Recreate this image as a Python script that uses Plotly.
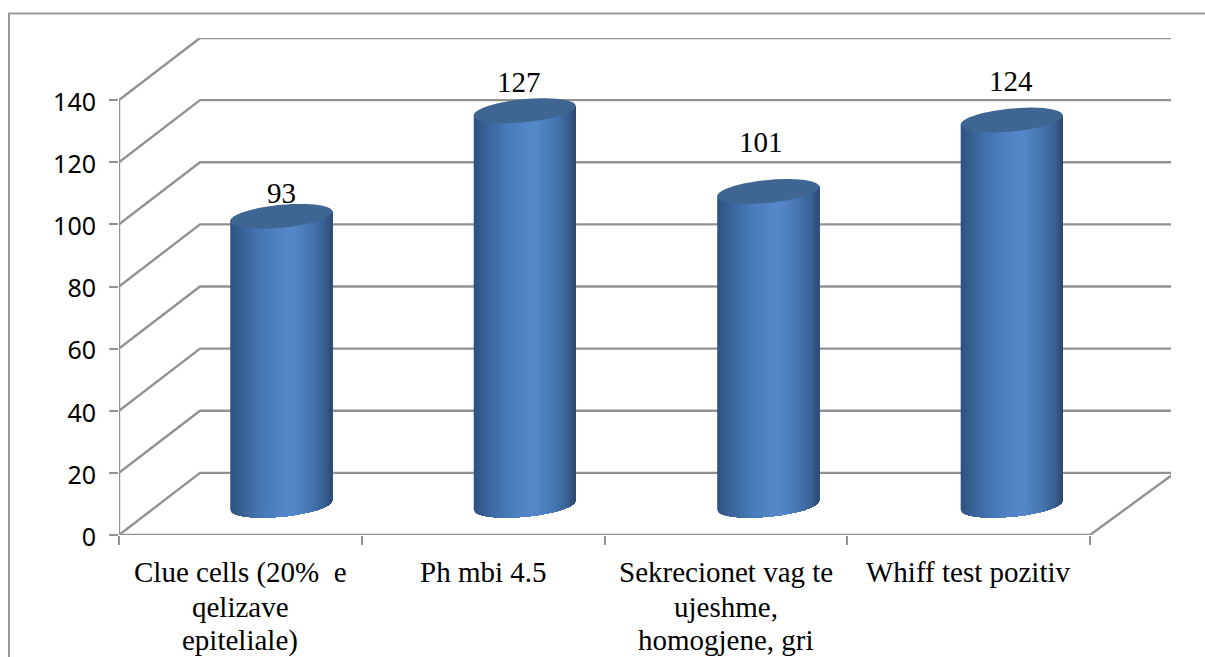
import numpy as np
import plotly.graph_objects as go

categories = [["Clue cells (20%  e", "qelizave", "epiteliale)"], ["Ph mbi 4.5"],
              ["Sekrecionet vag te", "ujeshme,", "homogjene, gri"], ["Whiff test pozitiv"]]
values = [93, 127, 101, 124]
y_ticks = [0, 20, 40, 60, 80, 100, 120, 140]

# Pseudo-3D geometry in axis units
DEPTH_X, DEPTH_Y = 0.3337, 20
WALL_EXTRA = 0.016
BAR_STEP = 1.003
BASE_Y = 9.6
HALF_W = 0.21
ELL_B, ELL_TILT = 3.7, 1.5
GRID = "#929292"
CAP = "#3f6592"
GRAD_POS = [-1.0, -0.75, -0.35, 0.05, 0.25, 0.6, 0.85, 1.0]
GRAD_COL = [(47, 82, 128), (58, 100, 152), (72, 122, 184), (84, 135, 200),
            (84, 135, 200), (70, 118, 176), (58, 96, 146), (44, 74, 112)]
LINE_SHIFTS = [-37, -72, -105]

n = len(values)
fig = go.Figure()


def line(xs, ys, color=GRID, width=2.4):
    fig.add_trace(go.Scatter(x=xs, y=ys, mode="lines", line=dict(color=color, width=width),
                             hoverinfo="skip", showlegend=False, cliponaxis=False))


wall_end = n + DEPTH_X + WALL_EXTRA
for v in y_ticks:
    line([0, DEPTH_X, wall_end], [v, v + DEPTH_Y, v + DEPTH_Y])
line([0, 0], [0, y_ticks[-1]])
line([0, n, wall_end], [0, 0, DEPTH_Y])


def grad(u):
    c = [np.interp(u, GRAD_POS, [g[k] for g in GRAD_COL]) for k in range(3)]
    return "rgb(%d,%d,%d)" % tuple(c)


edges = np.linspace(-1, 1, 81)
centers = [(i + 0.5) * BAR_STEP + DEPTH_X / 2 for i in range(n)]
for cx, v in zip(centers, values):
    top, base = v + BASE_Y, BASE_Y
    for k in range(len(edges) - 1):
        # each strip runs on to the right edge, the next one paints over it: no seams
        us = edges[k:]
        xs = cx + HALF_W * us
        low = base - ELL_B * np.sqrt(np.clip(1 - us ** 2, 0, 1)) + ELL_TILT * us
        high = top + ELL_TILT * us
        fig.add_trace(go.Scatter(x=np.r_[xs, xs[::-1], xs[0]], y=np.r_[low, high[::-1], low[0]],
                                 mode="none", fill="toself",
                                 fillcolor=grad((edges[k] + edges[k + 1]) / 2),
                                 hoverinfo="skip", showlegend=False, cliponaxis=False))
    t = np.linspace(0, 2 * np.pi, 90)
    fig.add_trace(go.Scatter(x=cx + HALF_W * np.cos(t),
                             y=top + ELL_B * np.sin(t) + ELL_TILT * np.cos(t),
                             mode="none", fill="toself", fillcolor=CAP,
                             hoverinfo="skip", showlegend=False, cliponaxis=False))

label_shift_y = [23, 29, 49, 39]
label_shift_x = [0, -6, -7, -1]
for i, v in enumerate(values):
    fig.add_annotation(x=centers[i], y=v + BASE_Y, text=str(v), showarrow=False,
                       xshift=label_shift_x[i], yshift=label_shift_y[i],
                       font=dict(family="Liberation Serif", size=29, color="#000000"))

for i, lines in enumerate(categories):
    for shift, txt in zip(LINE_SHIFTS, lines):
        fig.add_annotation(x=i + 0.5, y=0, text=txt, showarrow=False, yshift=shift,
                           font=dict(family="Liberation Serif", size=29, color="#000000"))

fig.add_shape(type="rect", xref="paper", yref="paper",
              x0=(9 - 119) / 1052, x1=(1230 - 119) / 1052,
              y0=(535 - 690) / 497, y1=(535 - 13.5) / 497,
              line=dict(color="#9a9a9a", width=2), fillcolor="rgba(0,0,0,0)", layer="below")

fig.update_layout(
    width=1205, height=657, margin=dict(l=119, r=34, t=38, b=122),
    paper_bgcolor="#ffffff", plot_bgcolor="#ffffff", showlegend=False,
    xaxis=dict(range=[0, n + DEPTH_X], showgrid=False, zeroline=False, showline=False,
               tickmode="array", tickvals=list(range(n + 1)), showticklabels=False,
               ticks="outside", ticklen=9, tickwidth=2, tickcolor=GRID),
    yaxis=dict(range=[0, y_ticks[-1] + DEPTH_Y], showgrid=False, zeroline=False, showline=False,
               tickmode="array", tickvals=y_ticks, ticks="outside", ticklen=9, tickwidth=2,
               tickcolor=GRID, ticklabelstandoff=8, ticklabelshift=2,
               tickfont=dict(family="Noto Sans", size=25, color="#000000")),
)

fig.write_html("out.html", config=dict(displayModeBar=False),
               post_script="document.body.style.margin='0';document.body.style.overflow='hidden';")
